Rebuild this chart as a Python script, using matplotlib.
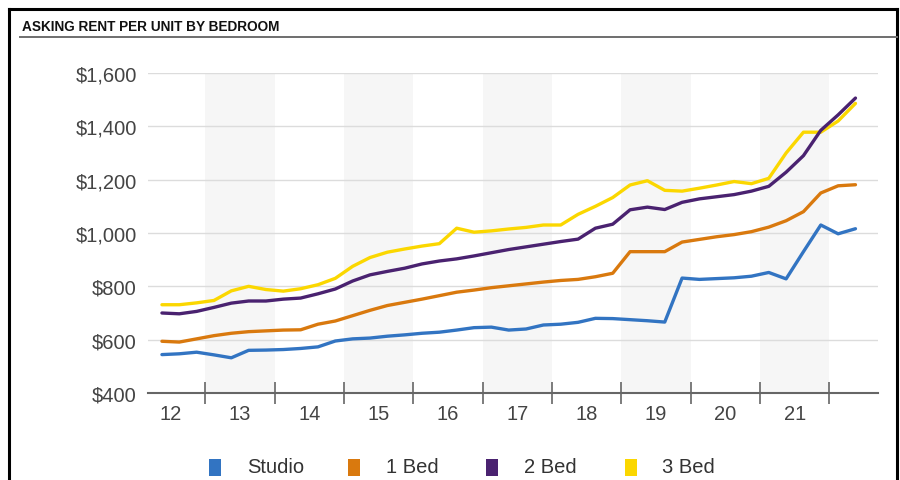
import pandas as pd
import matplotlib.pyplot as plt
from matplotlib.lines import Line2D
from matplotlib.patches import Rectangle
from matplotlib.ticker import FuncFormatter

plt.rcParams['font.family'] = ['Liberation Sans', 'DejaVu Sans']

# quarterly asking rent, 2012 Q2 .. 2022 Q2
quarters = pd.period_range('2012Q2', '2022Q2', freq='Q')

studio = [544, 547, 553, 543, 532, 560, 561, 563, 567, 573,
          595, 603, 606, 613, 618, 624, 628, 636, 645, 647,
          636, 640, 655, 658, 665, 680, 679, 675, 671, 666,
          831, 826, 829, 832, 838, 852, 828, 930, 1030, 997, 1016]
bed1 = [594, 591, 603, 615, 624, 630, 633, 636, 637, 658,
        670, 690, 710, 728, 740, 752, 765, 778, 786, 795,
        802, 809, 816, 822, 826, 836, 849, 930, 930, 930,
        966, 976, 986, 994, 1005, 1022, 1046, 1080, 1150, 1177, 1181]
bed2 = [700, 697, 706, 721, 737, 745, 745, 752, 756, 772,
        790, 820, 843, 856, 868, 884, 895, 903, 914, 926,
        938, 948, 958, 968, 977, 1018, 1033, 1087, 1097, 1088,
        1115, 1128, 1136, 1144, 1157, 1175, 1228, 1290, 1385, 1443, 1506]
bed3 = [731, 731, 738, 747, 783, 800, 788, 782, 791, 806,
        830, 875, 908, 928, 940, 951, 960, 1018, 1003, 1008,
        1015, 1021, 1030, 1030, 1070, 1100, 1133, 1180, 1196, 1160,
        1157, 1168, 1180, 1193, 1185, 1205, 1300, 1378, 1378, 1420, 1486]

series_names = ['Studio', '1 Bed', '2 Bed', '3 Bed']
series_colors = ['#3274c2', '#d9790e', '#4a2270', '#fbd700']
years = list(range(2012, 2022))

x = [q.year + (q.quarter - 0.5) / 4 for q in quarters]

W, H = 900, 481
fig = plt.figure(figsize=(W / 100, H / 100), dpi=100)

# panel frame, title and rule
def px(xp, yp):
    return xp / W, 1 - yp / H

for (x0, y0), (x1, y1) in [((9, 10), (9, 481)), ((9, 10), (897, 10)), ((897, 10), (897, 481))]:
    a, b = px(x0, y0)
    c, d = px(x1, y1)
    fig.add_artist(Line2D([a, c], [b, d], color='black', lw=2.2))
a, b = px(20, 37.5)
c, d = px(897, 37.5)
fig.add_artist(Line2D([a, c], [b, d], color='#6e6e6e', lw=1.4))
fig.text(22 / W, 1 - 27 / H, 'ASKING RENT PER UNIT BY BEDROOM', fontsize=9.8,
         fontweight='bold', va='center', ha='left', color='#111111')

ax = fig.add_axes([148 / W, 1 - 394 / H, 730 / W, 320 / H])

for y in years:
    if y % 2 == 1:
        ax.axvspan(y, y + 1, color='#f6f6f6', lw=0, zorder=0)

for name, vals, color in zip(series_names, [studio, bed1, bed2, bed3], series_colors):
    z = 4 if name == '2 Bed' else 3
    ax.plot(x, vals, color=color, lw=2.4, label=name, zorder=z,
            solid_joinstyle='round', solid_capstyle='round')

ax.set_xlim(2012.174, 2022.70)
ax.set_ylim(400, 1600)
ax.set_yticks(range(400, 1601, 200))
ax.yaxis.set_major_formatter(FuncFormatter(lambda v, p: '${:,.0f}'.format(v)))
ax.grid(axis='y', color='#dcdcdc', lw=1)
ax.set_axisbelow(True)

ax.set_xticks(range(2013, 2023))
ax.set_xticklabels([])
ax.set_xticks([y + 0.5 for y in years], minor=True)
ax.set_xticklabels([str(y)[2:] for y in years], minor=True)
ax.tick_params(axis='x', which='major', direction='inout', length=16, width=1.2, color='#666666')
ax.tick_params(axis='x', which='minor', length=0, pad=8, labelsize=14.5, labelcolor='#444444')
ax.tick_params(axis='y', length=0, pad=8, labelsize=14.5, labelcolor='#444444')

for s in ['top', 'right', 'left']:
    ax.spines[s].set_visible(False)
ax.spines['bottom'].set_color('#666666')
ax.spines['bottom'].set_linewidth(1.5)
ax.patch.set_alpha(0)

# legend row
for i, (name, color) in enumerate(zip(series_names, series_colors)):
    lx = 209 + 138.5 * i
    a, b = px(lx, 477)
    fig.add_artist(Rectangle((a, b), 12 / W, 17 / H, transform=fig.transFigure,
                             color=color, lw=0))
    fig.text((lx + 38) / W, 1 - 468 / H, name, fontsize=14.5, va='center',
             ha='left', color='#333333')

fig.savefig('out.png', dpi=100)
